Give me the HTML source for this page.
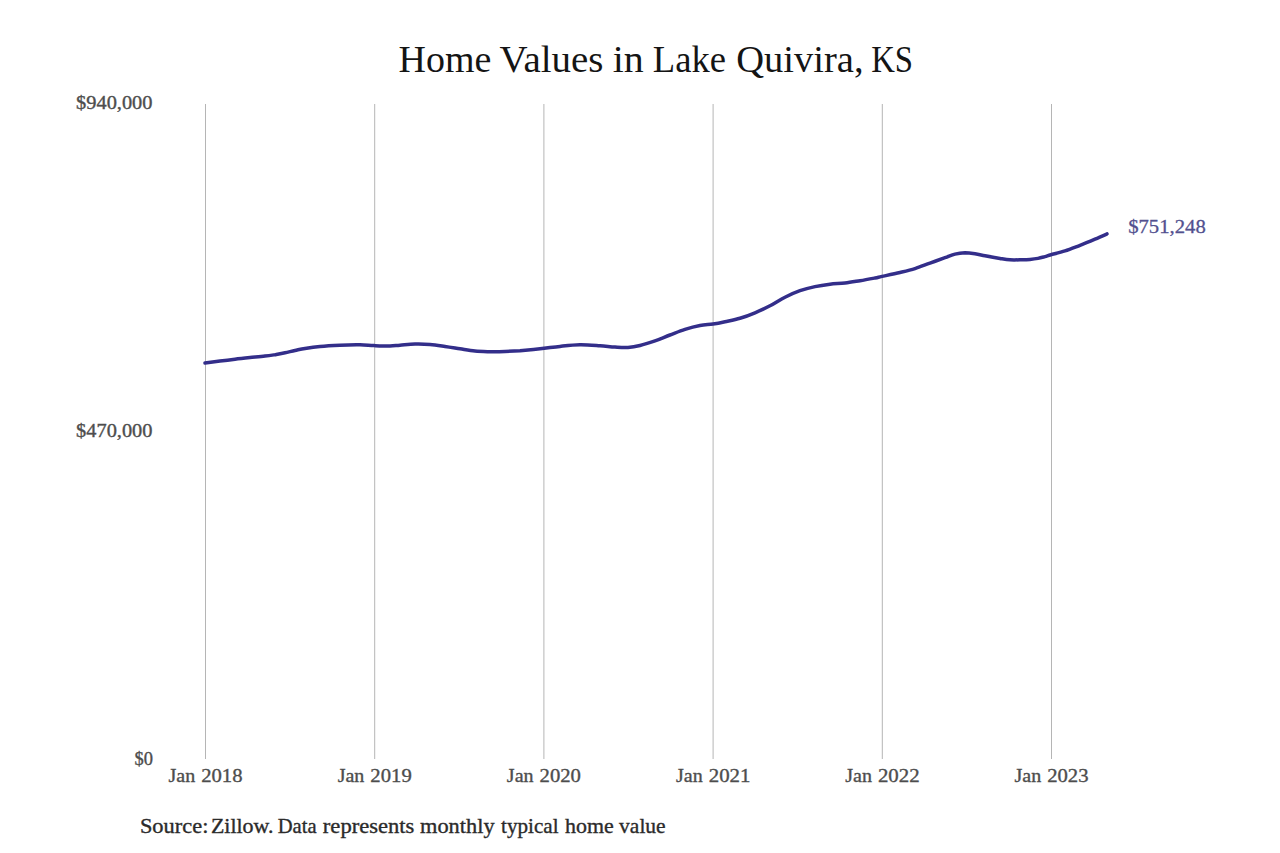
<!DOCTYPE html>
<html><head><meta charset="utf-8"><title>Home Values in Lake Quivira, KS</title><style>
html,body{margin:0;padding:0;background:#fff;}
svg{display:block;}
text{font-family:"Liberation Serif",serif;}
</style></head><body>
<svg width="1280" height="853" viewBox="0 0 1280 853">
<rect width="1280" height="853" fill="#fff"/>
<line x1="205.5" y1="104" x2="205.5" y2="759" stroke="#b5b5b5" stroke-width="1"/>
<line x1="374.7" y1="104" x2="374.7" y2="759" stroke="#b5b5b5" stroke-width="1"/>
<line x1="543.9" y1="104" x2="543.9" y2="759" stroke="#b5b5b5" stroke-width="1"/>
<line x1="713.1" y1="104" x2="713.1" y2="759" stroke="#b5b5b5" stroke-width="1"/>
<line x1="882.3" y1="104" x2="882.3" y2="759" stroke="#b5b5b5" stroke-width="1"/>
<line x1="1051.5" y1="104" x2="1051.5" y2="759" stroke="#b5b5b5" stroke-width="1"/>
<path d="M205.0,363.0 C207.5,362.7 215.0,361.7 220.0,361.1 C225.0,360.5 230.0,359.8 235.0,359.2 C240.0,358.6 245.0,358.1 250.0,357.6 C255.0,357.1 260.8,356.6 265.0,356.1 C269.2,355.6 271.7,355.2 275.0,354.7 C278.3,354.1 281.7,353.5 285.0,352.8 C288.3,352.1 291.7,351.2 295.0,350.5 C298.3,349.8 300.8,349.1 305.0,348.4 C309.2,347.7 314.2,346.9 320.0,346.4 C325.8,345.9 333.3,345.5 340.0,345.2 C346.7,344.9 354.3,344.7 360.0,344.8 C365.7,344.9 369.0,345.4 374.0,345.6 C379.0,345.8 385.7,346.1 390.0,346.0 C394.3,345.9 395.8,345.5 400.0,345.2 C404.2,344.9 410.0,344.2 415.0,344.1 C420.0,344.0 425.0,344.1 430.0,344.5 C435.0,344.9 440.0,345.7 445.0,346.4 C450.0,347.1 455.0,348.0 460.0,348.8 C465.0,349.6 470.0,350.6 475.0,351.1 C480.0,351.6 485.0,351.6 490.0,351.7 C495.0,351.8 500.0,351.7 505.0,351.5 C510.0,351.3 514.2,351.1 520.0,350.7 C525.8,350.2 533.3,349.5 540.0,348.8 C546.7,348.1 553.3,347.1 560.0,346.4 C566.7,345.7 573.3,344.9 580.0,344.8 C586.7,344.7 594.2,345.4 600.0,345.8 C605.8,346.2 610.3,346.8 615.0,347.1 C619.7,347.4 623.8,347.8 628.0,347.5 C632.2,347.2 635.5,346.6 640.0,345.5 C644.5,344.4 650.0,342.6 655.0,340.9 C660.0,339.1 665.0,336.9 670.0,335.0 C675.0,333.1 680.0,331.0 685.0,329.4 C690.0,327.8 695.3,326.4 700.0,325.5 C704.7,324.6 708.8,324.7 713.0,324.1 C717.2,323.5 720.5,322.8 725.0,321.8 C729.5,320.8 735.0,319.8 740.0,318.3 C745.0,316.8 750.0,314.9 755.0,312.8 C760.0,310.7 765.0,308.4 770.0,305.8 C775.0,303.2 780.0,299.7 785.0,297.2 C790.0,294.7 795.0,292.5 800.0,290.7 C805.0,288.9 810.0,287.7 815.0,286.6 C820.0,285.5 825.0,284.8 830.0,284.2 C835.0,283.6 840.0,283.6 845.0,283.0 C850.0,282.4 855.0,281.5 860.0,280.7 C865.0,279.9 871.3,278.7 875.0,278.0 C878.7,277.3 877.8,277.3 882.0,276.4 C886.2,275.5 894.5,273.8 900.0,272.5 C905.5,271.2 910.0,270.2 915.0,268.6 C920.0,267.0 925.0,264.9 930.0,263.1 C935.0,261.3 940.8,259.2 945.0,257.7 C949.2,256.2 951.7,254.9 955.0,254.1 C958.3,253.3 961.7,252.9 965.0,252.8 C968.3,252.8 971.7,253.3 975.0,253.8 C978.3,254.3 980.8,254.9 985.0,255.7 C989.2,256.5 995.8,257.7 1000.0,258.4 C1004.2,259.1 1006.7,259.6 1010.0,259.8 C1013.3,260.0 1016.7,259.9 1020.0,259.8 C1023.3,259.7 1027.0,259.6 1030.0,259.4 C1033.0,259.2 1035.5,258.9 1038.0,258.4 C1040.5,257.9 1042.8,257.2 1045.0,256.6 C1047.2,256.0 1047.7,255.6 1051.0,254.7 C1054.3,253.8 1060.2,252.5 1065.0,250.9 C1069.8,249.3 1075.0,247.2 1080.0,245.3 C1085.0,243.4 1090.5,241.1 1095.0,239.2 C1099.5,237.3 1105.0,234.8 1107.0,233.9" fill="none" stroke="#332e8a" stroke-width="3.5" stroke-linecap="round" stroke-linejoin="round"/>
<text x="398.51" y="72.20" font-size="38.5" fill="#141414" textLength="92.83" lengthAdjust="spacingAndGlyphs">Home</text>
<text x="499.60" y="72.20" font-size="38.5" fill="#141414" textLength="103.76" lengthAdjust="spacingAndGlyphs">Values</text>
<text x="612.78" y="72.20" font-size="38.5" fill="#141414" textLength="31.02" lengthAdjust="spacingAndGlyphs">in</text>
<text x="652.83" y="72.20" font-size="38.5" fill="#141414" textLength="73.18" lengthAdjust="spacingAndGlyphs">Lake</text>
<text x="736.20" y="72.20" font-size="38.5" fill="#141414" textLength="127.41" lengthAdjust="spacingAndGlyphs">Quivira,</text>
<text x="871.19" y="72.20" font-size="38.5" fill="#141414" textLength="41.85" lengthAdjust="spacingAndGlyphs">KS</text>
<text x="76.06" y="108.80" font-size="18.6" fill="#4d4d4d" stroke="#4d4d4d" stroke-width="0.35" textLength="76.47" lengthAdjust="spacingAndGlyphs">$940,000</text>
<text x="76.06" y="437.30" font-size="18.6" fill="#4d4d4d" stroke="#4d4d4d" stroke-width="0.35" textLength="76.47" lengthAdjust="spacingAndGlyphs">$470,000</text>
<text x="134.42" y="765.40" font-size="18.6" fill="#4d4d4d" stroke="#4d4d4d" stroke-width="0.35" textLength="18.45" lengthAdjust="spacingAndGlyphs">$0</text>
<text x="168.49" y="781.80" font-size="19.5" fill="#4d4d4d" stroke="#4d4d4d" stroke-width="0.35" textLength="26.71" lengthAdjust="spacingAndGlyphs">Jan</text>
<text x="201.15" y="781.80" font-size="19.5" fill="#4d4d4d" stroke="#4d4d4d" stroke-width="0.35" textLength="41.39" lengthAdjust="spacingAndGlyphs">2018</text>
<text x="337.69" y="781.80" font-size="19.5" fill="#4d4d4d" stroke="#4d4d4d" stroke-width="0.35" textLength="26.71" lengthAdjust="spacingAndGlyphs">Jan</text>
<text x="370.35" y="781.80" font-size="19.5" fill="#4d4d4d" stroke="#4d4d4d" stroke-width="0.35" textLength="41.39" lengthAdjust="spacingAndGlyphs">2019</text>
<text x="506.89" y="781.80" font-size="19.5" fill="#4d4d4d" stroke="#4d4d4d" stroke-width="0.35" textLength="26.71" lengthAdjust="spacingAndGlyphs">Jan</text>
<text x="539.55" y="781.80" font-size="19.5" fill="#4d4d4d" stroke="#4d4d4d" stroke-width="0.35" textLength="41.39" lengthAdjust="spacingAndGlyphs">2020</text>
<text x="676.09" y="781.80" font-size="19.5" fill="#4d4d4d" stroke="#4d4d4d" stroke-width="0.35" textLength="26.71" lengthAdjust="spacingAndGlyphs">Jan</text>
<text x="708.75" y="781.80" font-size="19.5" fill="#4d4d4d" stroke="#4d4d4d" stroke-width="0.35" textLength="41.73" lengthAdjust="spacingAndGlyphs">2021</text>
<text x="845.29" y="781.80" font-size="19.5" fill="#4d4d4d" stroke="#4d4d4d" stroke-width="0.35" textLength="26.71" lengthAdjust="spacingAndGlyphs">Jan</text>
<text x="877.95" y="781.80" font-size="19.5" fill="#4d4d4d" stroke="#4d4d4d" stroke-width="0.35" textLength="41.73" lengthAdjust="spacingAndGlyphs">2022</text>
<text x="1014.49" y="781.80" font-size="19.5" fill="#4d4d4d" stroke="#4d4d4d" stroke-width="0.35" textLength="26.71" lengthAdjust="spacingAndGlyphs">Jan</text>
<text x="1047.15" y="781.80" font-size="19.5" fill="#4d4d4d" stroke="#4d4d4d" stroke-width="0.35" textLength="41.39" lengthAdjust="spacingAndGlyphs">2023</text>
<text x="1128.15" y="232.80" font-size="19.8" fill="#52508f" stroke="#52508f" stroke-width="0.3" textLength="77.59" lengthAdjust="spacingAndGlyphs">$751,248</text>
<text x="139.90" y="832.60" font-size="21" fill="#2b2b2b" stroke="#2b2b2b" stroke-width="0.35" textLength="68.48" lengthAdjust="spacingAndGlyphs">Source:</text>
<text x="210.97" y="832.60" font-size="21" fill="#2b2b2b" stroke="#2b2b2b" stroke-width="0.35" textLength="62.50" lengthAdjust="spacingAndGlyphs">Zillow.</text>
<text x="277.68" y="832.60" font-size="21" fill="#2b2b2b" stroke="#2b2b2b" stroke-width="0.35" textLength="38.85" lengthAdjust="spacingAndGlyphs">Data</text>
<text x="322.85" y="832.60" font-size="21" fill="#2b2b2b" stroke="#2b2b2b" stroke-width="0.35" textLength="91.53" lengthAdjust="spacingAndGlyphs">represents</text>
<text x="420.05" y="832.60" font-size="21" fill="#2b2b2b" stroke="#2b2b2b" stroke-width="0.35" textLength="74.55" lengthAdjust="spacingAndGlyphs">monthly</text>
<text x="501.10" y="832.60" font-size="21" fill="#2b2b2b" stroke="#2b2b2b" stroke-width="0.35" textLength="57.46" lengthAdjust="spacingAndGlyphs">typical</text>
<text x="565.00" y="832.60" font-size="21" fill="#2b2b2b" stroke="#2b2b2b" stroke-width="0.35" textLength="48.68" lengthAdjust="spacingAndGlyphs">home</text>
<text x="619.10" y="832.60" font-size="21" fill="#2b2b2b" stroke="#2b2b2b" stroke-width="0.35" textLength="46.57" lengthAdjust="spacingAndGlyphs">value</text>
</svg>
</body></html>
